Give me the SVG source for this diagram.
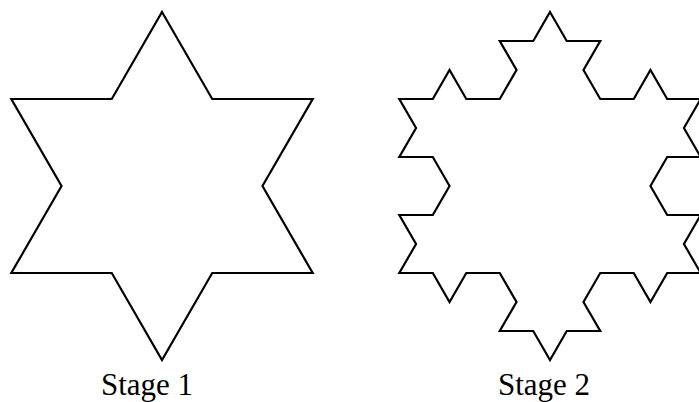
<svg xmlns="http://www.w3.org/2000/svg" width="699" height="402" viewBox="0 0 699 402">
<style>
.shape{fill:none;stroke:#000;stroke-width:2.2;stroke-linejoin:miter;stroke-miterlimit:10}
.label{font-family:"Liberation Serif","Times New Roman",serif;font-size:31px;fill:#000}
</style>
<rect width="699" height="402" fill="#fff"/>
<g id="stage1">
<path class="shape" d="M162,12 L212.23,99 L312.69,99 L262.46,186 L312.69,273 L212.23,273 L162,360 L111.77,273 L11.31,273 L61.54,186 L11.31,99 L111.77,99 Z"/>
<text class="label" x="101" y="395">Stage 1</text>
</g>
<g id="stage2">
<path class="shape" d="M550,12
l16.743,29 l33.486,0 l-16.743,29 l16.743,29
l33.486,0 l16.743,-29 l16.743,29 l33.486,0
l-16.743,29 l16.743,29 l-33.486,0 l-16.743,29
l16.743,29 l33.486,0 l-16.743,29 l16.743,29
l-33.486,0 l-16.743,29 l-16.743,-29 l-33.486,0
l-16.743,29 l16.743,29 l-33.486,0 l-16.743,29
l-16.743,-29 l-33.486,0 l16.743,-29 l-16.743,-29
l-33.486,0 l-16.743,29 l-16.743,-29 l-33.486,0
l16.743,-29 l-16.743,-29 l33.486,0 l16.743,-29
l-16.743,-29 l-33.486,0 l16.743,-29 l-16.743,-29
l33.486,0 l16.743,-29 l16.743,29 l33.486,0
l16.743,-29 l-16.743,-29 l33.486,0 Z"/>
<text class="label" x="498" y="395">Stage 2</text>
</g>
</svg>
